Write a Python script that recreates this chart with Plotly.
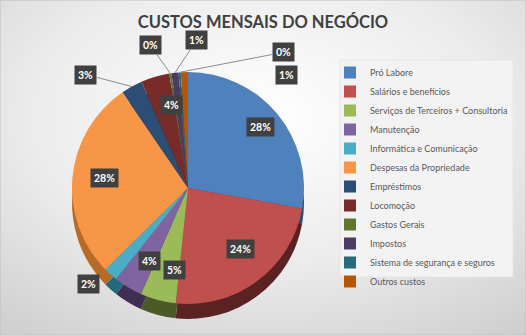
import math
import base64
import plotly.graph_objects as go

# ---------------- data ----------------
categories = [
    "Pró Labore",
    "Salários e benefícios",
    "Serviços de Terceiros + Consultoria",
    "Manutenção",
    "Informática e Comunicação",
    "Despesas da Propriedade",
    "Empréstimos",
    "Locomoção",
    "Gastos Gerais",
    "Impostos",
    "Sistema de segurança e seguros",
    "Outros custos",
]
values = [28, 24, 5, 4, 2, 28, 3, 4, 0.3, 1, 0.3, 1]

colors = ["#4F81BD", "#C0504D", "#9BBB59", "#8064A2", "#4BACC6", "#F79646",
          "#2C4D75", "#772C2A", "#5F7530", "#4D3B62", "#276A7C", "#B65708"]
dark_colors = ["#2E4D73", "#5A2220", "#4A5B28", "#3F2F52", "#236A7C", "#B86A28",
               "#1A2E47", "#3E1615", "#36431B", "#2A2036", "#17404B", "#6E3405"]

# ---------------- geometry / style ----------------
W, H = 526, 335
cx, cy, r = 188, 188, 116
depth = 15

# label placement style: radial factor for inside labels, or pixel offsets for outside ones
inside_f = [0.82, 0.76, 0.82, 0.84, None, 0.85, None, 0.84, None, None, None, None]
out_off = {4: (-22, 10, False), 6: (-46, -12, True), 8: (-20, -28, True),
           9: (22, -33, True), 10: (104, -20, True), 11: (102, 3, False)}


def dom(cyy):
    return dict(x=[(cx - r) / W, (cx + r) / W],
                y=[1 - (cyy + r) / H, 1 - (cyy - r) / H])


fig = go.Figure()
fig.add_trace(go.Pie(
    labels=categories, values=values, sort=False, direction="clockwise",
    rotation=0, domain=dom(cy + depth), textinfo="none", hoverinfo="skip",
    marker=dict(colors=dark_colors, line=dict(width=0)), showlegend=False,
))
fig.add_trace(go.Pie(
    labels=categories, values=values, sort=False, direction="clockwise",
    rotation=0, domain=dom(cy), textinfo="none",
    marker=dict(colors=colors, line=dict(width=0)),
))

total = sum(values)
annotations = []
cum = 0.0
for i, v in enumerate(values):
    mid = (cum + v / 2) / total * 2 * math.pi
    cum += v
    pct = f"{round(v / total * 100):.0f}%"
    box = dict(text=f"<b>{pct}</b>", xref="paper", yref="paper",
               font=dict(family="Lato", size=10.5, color="white"),
               bgcolor="#404040", borderpad=3)
    if inside_f[i] is not None:
        f = inside_f[i]
        px = cx + f * r * math.sin(mid)
        py = cy - f * r * math.cos(mid)
        box.update(x=px / W, y=1 - py / H, showarrow=False)
    else:
        ax, ay, arrow = out_off[i]
        px = cx + r * math.sin(mid)
        py = cy - r * math.cos(mid)
        box.update(x=px / W, y=1 - py / H, showarrow=True, ax=ax, ay=ay,
                   arrowhead=0, arrowwidth=1, standoff=0,
                   arrowcolor="#8c8c8c" if arrow else "rgba(0,0,0,0)")
    annotations.append(box)

svg = (f'<svg xmlns="http://www.w3.org/2000/svg" width="{W}" height="{H}">'
       '<defs><radialGradient id="g" cx="50%" cy="35%" r="80%">'
       '<stop offset="0%" stop-color="#ffffff"/>'
       '<stop offset="55%" stop-color="#ececec"/>'
       '<stop offset="100%" stop-color="#cfcfcf"/></radialGradient></defs>'
       '<rect width="100%" height="100%" fill="url(#g)"/></svg>')
src = "data:image/svg+xml;base64," + base64.b64encode(svg.encode()).decode()

fig.update_layout(
    width=W, height=H,
    margin=dict(l=0, r=0, t=0, b=0),
    paper_bgcolor="#ececec",
    images=[dict(source=src, xref="paper", yref="paper", x=0, y=1,
                 sizex=1, sizey=1, sizing="stretch", layer="below")],
    title=dict(text="<b>CUSTOS MENSAIS DO NEGÓCIO</b>", x=0.5, xanchor="center",
               y=1 - 22 / H, yanchor="middle",
               font=dict(family="Lato", size=16.5, color="#404040")),
    legend=dict(x=330 / W, y=1 - 58 / H, xanchor="left", yanchor="top",
                bgcolor="rgba(0,0,0,0)", itemwidth=30,
                font=dict(family="Lato", size=9, color="#595959"),
                traceorder="normal"),
    annotations=annotations,
    shapes=[
        dict(type="rect", xref="paper", yref="paper", x0=340 / W, x1=513 / W,
             y0=1 - 277 / H, y1=1 - 60 / H, fillcolor="#f3f3f3",
             line=dict(color="#e6e6e6", width=1), layer="below"),
        dict(type="rect", xref="paper", yref="paper", x0=0, y0=0, x1=1, y1=1,
             line=dict(color="#bfbfbf", width=1)),
    ],
)

fig.write_html("out.html")
